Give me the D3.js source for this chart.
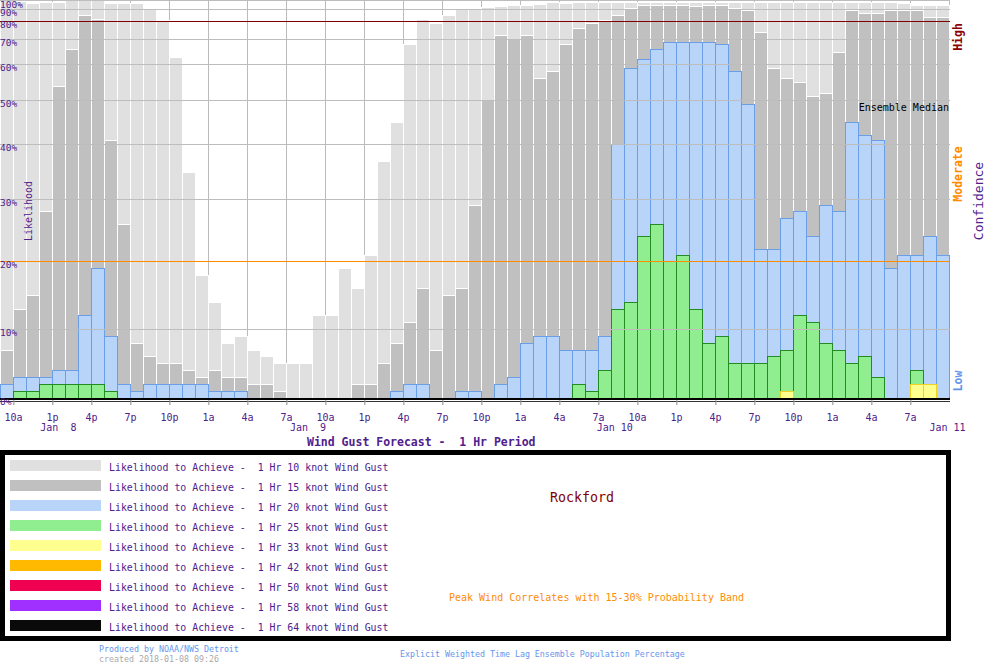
<!DOCTYPE html>
<html>
<head>
<meta charset="utf-8">
<script src="https://cdn.jsdelivr.net/npm/d3@7"></script>
<style>
body { margin: 0; background: #fff; }
svg { display: block; font-family: "DejaVu Sans Mono", "Liberation Mono", monospace; }
text { white-space: pre; }
</style>
</head>
<body>
<svg id="chart" width="1000" height="670"></svg>
<script>
// One bar per hour, first bar starts 9a Jan 8
const startHour = new Date(2018, 0, 8, 9);
const nHours = 73;

// Likelihood (%) of reaching each gust threshold
const gust10 = [100, 99, 97, 98, 98,100,100,100, 97, 97, 97, 90,
                 81, 63, 35, 18, 14,  8,  9,  7,  6,  5,  5,  5,
                 12, 12, 19, 16, 21, 37, 45, 68, 82, 79, 85, 90,
                 90, 92, 93, 95, 95, 96, 98, 97, 98, 98, 98, 98,
                 98, 98, 98, 98, 98, 98, 98, 98, 98, 98, 98, 98,
                 98, 98, 98, 98, 98, 98, 98, 98, 98, 97, 95, 94,
                 94];
const gust15 = [  7, 13, 15, 28, 54, 66, 85, 82, 41, 26,  8,  6,
                  5,  5,  4,  3,  4,  3,  3,  2,  2,  1,  0,  0,
                  0,  0,  0,  2,  2,  5,  8, 11, 16,  7, 15, 16,
                 29, 50, 72, 70, 72, 56, 58, 68, 76, 79, 81, 85,
                 91, 94, 95, 94, 94, 93, 94, 95, 91, 89, 74, 59,
                 56, 55, 51, 52, 65, 89, 87, 87, 89, 89, 89, 83,
                 83];
const gust20 = [  2,  3,  3,  3,  4,  4, 12, 19,  9,  2,  1,  2,
                  2,  2,  2,  2,  1,  1,  1,  0,  0,  0,  0,  0,
                  0,  0,  0,  0,  0,  0,  1,  2,  2,  0,  0,  1,
                  1,  0,  2,  3,  8,  9,  9,  7,  7,  7,  9, 40,
                 59, 62, 66, 69, 69, 69, 69, 68, 58, 49, 22, 22,
                 27, 28, 24, 29, 28, 45, 42, 41, 19, 21, 21, 24,
                 21];
const gust25 = [  0,  1,  1,  2,  2,  2,  2,  2,  1,  0,  0,  0,
                  0,  0,  0,  0,  0,  0,  0,  0,  0,  0,  0,  0,
                  0,  0,  0,  0,  0,  0,  0,  0,  0,  0,  0,  0,
                  0,  0,  0,  0,  0,  0,  0,  0,  2,  1,  4, 13,
                 14, 24, 26, 20, 21, 13,  8,  9,  5,  5,  5,  6,
                  7, 12, 11,  8,  7,  5,  6,  3,  0,  0,  4,  2,
                  0];
const gust33 = [  0,  0,  0,  0,  0,  0,  0,  0,  0,  0,  0,  0,
                  0,  0,  0,  0,  0,  0,  0,  0,  0,  0,  0,  0,
                  0,  0,  0,  0,  0,  0,  0,  0,  0,  0,  0,  0,
                  0,  0,  0,  0,  0,  0,  0,  0,  0,  0,  0,  0,
                  0,  0,  0,  0,  0,  0,  0,  0,  0,  0,  0,  0,
                  1,  0,  0,  0,  0,  0,  0,  0,  0,  0,  2,  2,
                  0];

const knots = ["10", "15", "20", "25", "33", "42", "50", "58", "64"];
const fills = ["#e0e0e0", "#c0c0c0", "#b8d4f8", "#90ee90", "#ffff90", "#ffb900", "#f00050", "#a030ff", "#0a0a0a"];
const strokes = ["#ffffff", "#ffffff", "#6a9ee6", "#228b22", "#f0d020"];

const yTicks = [0, 10, 20, 30, 40, 50, 60, 70, 80, 90, 100];
const tickLabels = ["10a", "1p", "4p", "7p", "10p", "1a", "4a", "7a",
                    "10a", "1p", "4p", "7p", "10p", "1a", "4a", "7a",
                    "10a", "1p", "4p", "7p", "10p", "1a", "4a", "7a"];
// date labels: text and hour offset from start where the label begins
const dateNames = ["Jan  8", "Jan  9", "Jan 10", "Jan 11"];
const dateHours = [3.1, 22.3, 45.9, 71.5];

const purple = "#50208c";
const svg = d3.select("#chart");
const plotW = 949, base = 398;

const endHour = d3.timeHour.offset(startHour, nHours);
const hours = d3.timeHour.range(startHour, endHour);
const tickTimes = d3.timeHour.range(d3.timeHour.offset(startHour, 1), endHour, 3);

const x = d3.scaleTime().domain([startHour, endHour]).range([0, plotW]);
// graph paper is stretched: low percentages get more room
const y = d3.scaleLinear()
    .domain(yTicks)
    .range([398, 329.5, 261.5, 199.5, 144.5, 100.5, 64.5, 39.5, 21.5, 9.5, 0.5]);

// vertical grid (behind bars)
svg.append("g")
    .selectAll("line")
    .data(tickTimes)
    .join("line")
    .attr("x1", d => Math.round(x(d)) + 0.5)
    .attr("x2", d => Math.round(x(d)) + 0.5)
    .attr("y1", 0)
    .attr("y2", 405)
    .attr("stroke", "#bbbbbb");

svg.append("line")
    .attr("x1", plotW + 0.5).attr("x2", plotW + 0.5)
    .attr("y1", 0).attr("y2", base)
    .attr("stroke", "#bbbbbb");

// bars, widest threshold first
[gust10, gust15, gust20, gust25, gust33].forEach((vals, k) => {
    const rows = hours.map((t, i) => ({t, v: vals[i]})).filter(d => d.v > 0);
    svg.append("g")
        .selectAll("rect")
        .data(rows)
        .join("rect")
        .attr("x", d => Math.round(x(d.t)) + 0.5)
        .attr("width", d => Math.round(x(d3.timeHour.offset(d.t, 1))) - Math.round(x(d.t)))
        .attr("y", d => Math.floor(y(d.v)) + 0.5)
        .attr("height", d => base + 1 - Math.floor(y(d.v)))
        .attr("fill", fills[k])
        .attr("stroke", strokes[k])
        .attr("stroke-width", 1);
});

// horizontal grid (over bars)
svg.append("g")
    .selectAll("line")
    .data(yTicks.filter(v => v > 0))
    .join("line")
    .attr("x1", 0)
    .attr("x2", plotW + 1)
    .attr("y1", d => Math.floor(y(d)) + 0.5)
    .attr("y2", d => Math.floor(y(d)) + 0.5)
    .attr("stroke", d => d === 20 ? "#ff8c00" : d === 80 ? "#800000" : "#bdbdbd");

// base line
svg.append("rect").attr("x", 0).attr("y", base).attr("width", plotW + 1).attr("height", 2).attr("fill", "#000");
svg.append("line").attr("x1", 0).attr("x2", plotW + 1).attr("y1", 401.5).attr("y2", 401.5).attr("stroke", "#333");

// x axis
const xAxis = svg.append("g")
    .attr("transform", "translate(0,400)")
    .call(d3.axisBottom(x)
        .tickValues(tickTimes)
        .tickSize(5)
        .tickFormat((d, i) => tickLabels[i]));
xAxis.select(".domain").remove();
xAxis.selectAll(".tick line").attr("stroke", "#aaaaaa").attr("transform", "translate(0.5,0)");
xAxis.selectAll(".tick text")
    .attr("y", 21).attr("dy", 0)
    .attr("fill", purple)
    .style("font-family", "DejaVu Sans Mono")
    .style("font-size", "10px");

svg.append("g")
    .selectAll("text")
    .data(dateNames)
    .join("text")
    .attr("x", (d, i) => x(d3.timeMinute.offset(startHour, Math.round(dateHours[i] * 60))))
    .attr("y", 431)
    .attr("fill", purple)
    .style("font-size", "10px")
    .text(d => d);

svg.append("text")
    .attr("x", 307).attr("y", 446)
    .attr("fill", purple)
    .style("font-size", "11.5px")
    .style("font-weight", "bold")
    .text("Wind Gust Forecast -  1 Hr Period");

// y labels
svg.append("g")
    .selectAll("text")
    .data(yTicks)
    .join("text")
    .attr("x", 0)
    .attr("y", d => Math.max(8, Math.floor(y(d)) + 6.5))
    .attr("fill", purple)
    .style("font-size", "9.5px")
    .text(d => d + "%");

svg.append("text")
    .attr("transform", "translate(32,211) rotate(-90)")
    .attr("text-anchor", "middle")
    .attr("fill", purple)
    .style("font-size", "10px")
    .text("Likelihood");

svg.append("text")
    .attr("x", 949).attr("y", 111)
    .attr("text-anchor", "end")
    .attr("fill", "#000")
    .style("font-size", "10px")
    .text("Ensemble Median");

// confidence labels on the right
const conf = [
    {t: "High", c: "#8b0000", cy: 37},
    {t: "Moderate", c: "#ff8c00", cy: 174},
    {t: "Low", c: "#6495ed", cy: 381}
];
svg.append("g")
    .selectAll("text")
    .data(conf)
    .join("text")
    .attr("transform", d => `translate(962,${d.cy}) rotate(-90)`)
    .attr("text-anchor", "middle")
    .attr("fill", d => d.c)
    .style("font-size", "11.5px")
    .style("font-weight", "bold")
    .text(d => d.t);

svg.append("text")
    .attr("transform", "translate(983,201) rotate(-90)")
    .attr("text-anchor", "middle")
    .attr("fill", purple)
    .style("font-size", "13px")
    .text("Confidence");

// legend box
svg.append("rect")
    .attr("x", 2.5).attr("y", 452.5)
    .attr("width", 946).attr("height", 186)
    .attr("fill", "none")
    .attr("stroke", "#000")
    .attr("stroke-width", 5);

const leg = svg.append("g")
    .selectAll("g")
    .data(knots)
    .join("g")
    .attr("transform", (d, i) => `translate(0,${460 + i * 20})`);
leg.append("rect")
    .attr("x", 10).attr("width", 91)
    .attr("height", 11)
    .attr("fill", (d, i) => fills[i]);
leg.append("text")
    .attr("x", 109).attr("y", 10.5)
    .attr("fill", purple)
    .style("font-size", "9.9px")
    .text(d => `Likelihood to Achieve -  1 Hr ${d} knot Wind Gust`);

svg.append("text")
    .attr("x", 550).attr("y", 502)
    .attr("fill", "#800000")
    .style("font-size", "13.3px")
    .text("Rockford");

svg.append("text")
    .attr("x", 449).attr("y", 601)
    .attr("fill", "#ff8c00")
    .style("font-size", "10px")
    .text("Peak Wind Correlates with 15-30% Probability Band");

// footer
svg.append("text").attr("x", 99).attr("y", 652).attr("fill", "#6495ed")
    .style("font-size", "8.3px").text("Produced by NOAA/NWS Detroit");
svg.append("text").attr("x", 99).attr("y", 662).attr("fill", "#aaaaaa")
    .style("font-size", "8.3px").text("created 2018-01-08 09:26");
svg.append("text").attr("x", 400).attr("y", 657).attr("fill", "#6495ed")
    .style("font-size", "8.3px").text("Explicit Weighted Time Lag Ensemble Population Percentage");
</script>
</body>
</html>
